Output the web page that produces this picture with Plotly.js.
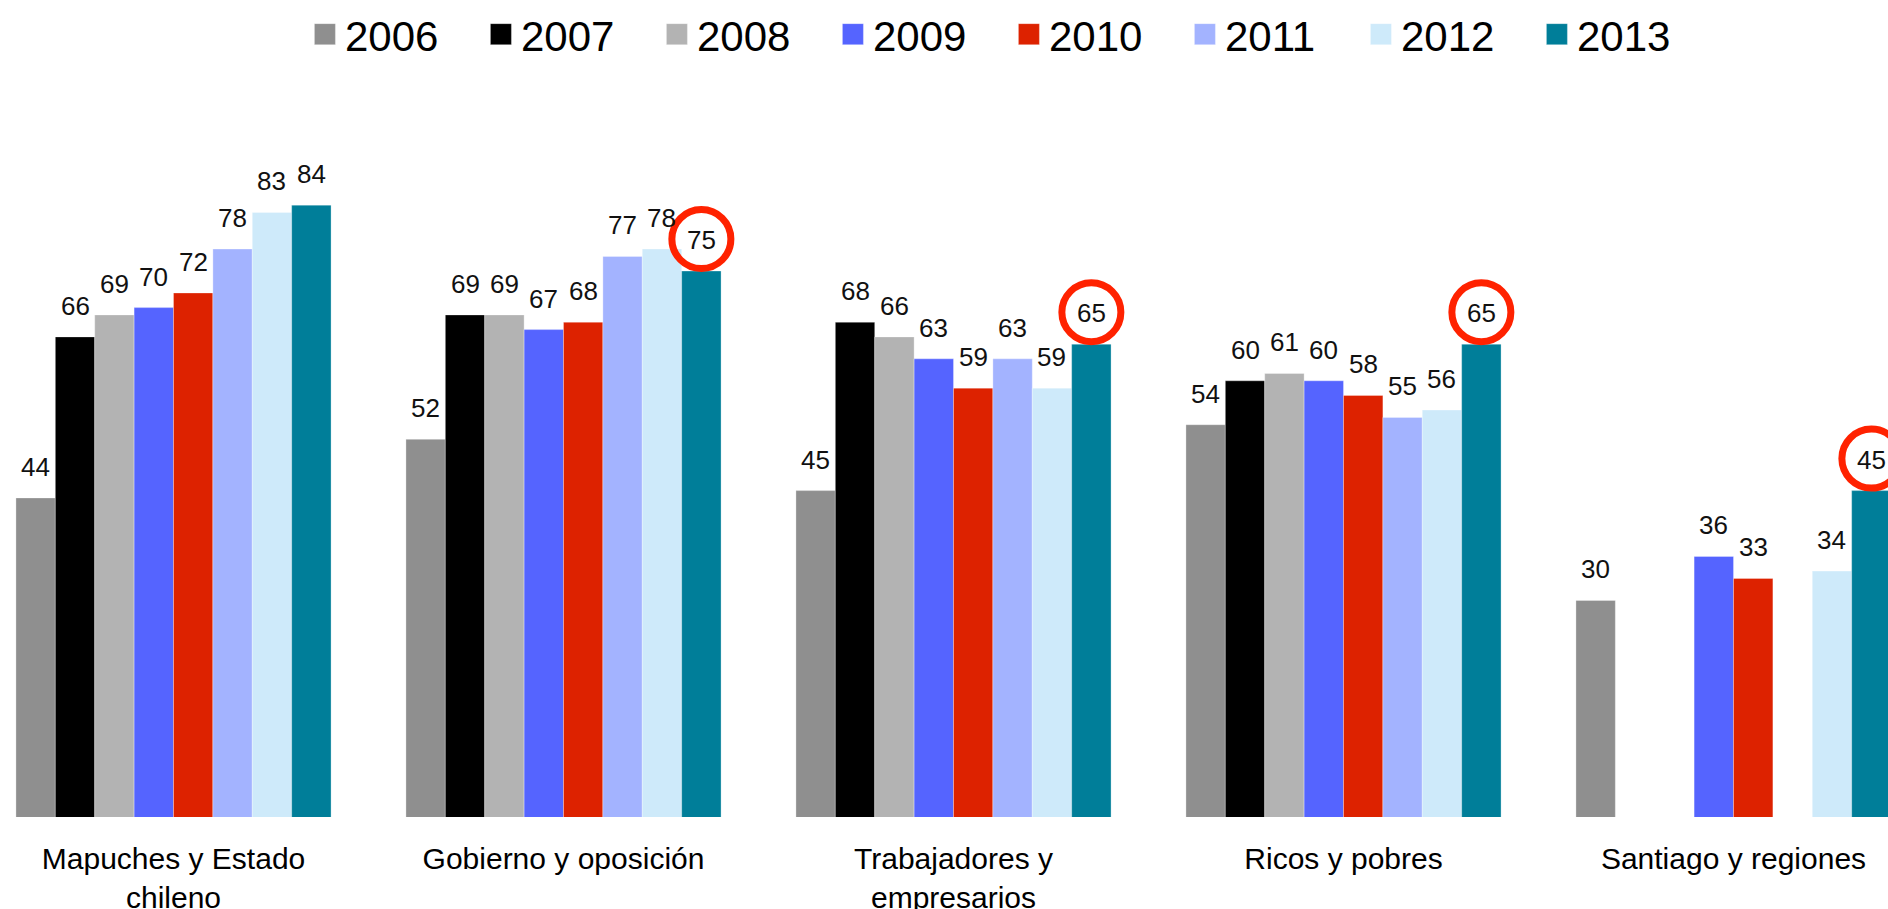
<!DOCTYPE html>
<html><head><meta charset="utf-8">
<script src="https://cdn.plot.ly/plotly-3.0.1.min.js"></script>
<style>html,body{margin:0;padding:0;overflow:hidden;background:#fff}</style>
</head><body><div id="chart" style="width:1888px;height:909px"></div>
<script>
const categories = ["Mapuches y Estado<br>chileno", "Gobierno y oposición", "Trabajadores y<br>empresarios", "Ricos y pobres", "Santiago y regiones"];
const years = ["2006", "2007", "2008", "2009", "2010", "2011", "2012", "2013"];
const colors = ["#8F8F8F", "#000000", "#B3B3B3", "#5564FF", "#DD2200", "#A3B3FF", "#CEEAFA", "#007E99"];
const v2006 = [44, 52, 45, 54, 30];
const v2007 = [66, 69, 68, 60, null];
const v2008 = [69, 69, 66, 61, null];
const v2009 = [70, 67, 63, 60, 36];
const v2010 = [72, 68, 59, 58, 33];
const v2011 = [78, 77, 63, 55, null];
const v2012 = [83, 78, 59, 56, 34];
const v2013 = [84, 75, 65, 65, 45];
const circled2013 = [false, true, true, true, true];

const series = [v2006, v2007, v2008, v2009, v2010, v2011, v2012, v2013];
const FONT = "Liberation Sans, Arial, Helvetica, sans-serif";
const xpos = categories.map((c, i) => i);
const bargap = 0.192;
const nS = series.length;
const bw = (1 - bargap) / nS;
const offset = j => -(1 - bargap) / 2 + (j + 0.5) * bw;

const traces = series.map((vals, j) => ({
  type: "bar",
  name: years[j],
  x: xpos,
  y: vals,
  marker: { color: colors[j], line: { width: 1, color: "rgba(255,255,255,0.3)" } },
  hoverinfo: "x+y+name"
}));

const annotations = [];
series.forEach((vals, j) => {
  vals.forEach((v, i) => {
    if (v === null) return;
    annotations.push({
      x: i + offset(j), y: v, xref: "x", yref: "y",
      text: String(v), showarrow: false,
      xanchor: "center", yanchor: "middle", yshift: 31,
      font: { family: FONT, size: 26, color: "#111" }
    });
  });
});

const shapes = [];
const last = nS - 1;
circled2013.forEach((c, i) => {
  if (!c || v2013[i] === null) return;
  shapes.push({
    type: "circle", xref: "x", yref: "y",
    xsizemode: "pixel", ysizemode: "pixel",
    xanchor: i + offset(last), yanchor: v2013[i],
    x0: -29.5, x1: 29.5, y0: 2.5, y1: 61.5,
    line: { color: "#FF2200", width: 7 },
    fillcolor: "rgba(0,0,0,0)", layer: "above"
  });
});

const catWidthPx = 390, firstCenterPx = 173.5, W = 1888;
const xr0 = -firstCenterPx / catWidthPx;
const xr1 = xr0 + W / catWidthPx;
const pxPerUnit = 7.36, plotH = 727;
const yMin = 3 / pxPerUnit;

const layout = {
  width: 1888, height: 909,
  margin: { l: 0, r: 0, t: 90, b: 92 },
  paper_bgcolor: "#fff", plot_bgcolor: "#fff",
  barmode: "group", bargap: bargap, bargroupgap: 0,
  font: { family: FONT, color: "#000" },
  showlegend: true,
  legend: {
    orientation: "h", x: 0.1615, xanchor: "left", y: 1.0825, yanchor: "middle",
    font: { family: FONT, size: 42, color: "#000" },
    entrywidth: 131, itemclick: false, itemdoubleclick: false
  },
  xaxis: {
    type: "linear", range: [xr0, xr1], tickvals: xpos, ticktext: categories,
    showgrid: false, zeroline: false, showline: false, ticks: "",
    ticklabelstandoff: 21,
    tickfont: { family: FONT, size: 30, color: "#000" }, fixedrange: true
  },
  yaxis: { range: [yMin, yMin + plotH / pxPerUnit], visible: false, fixedrange: true },
  annotations: annotations,
  shapes: shapes
};

function fixLegend() {
  document.querySelectorAll("#chart .legendpoints path").forEach(p => p.setAttribute("d", "M10.5,10.5H-10.5V-10.5H10.5Z"));
}
Plotly.newPlot("chart", traces, layout, { displayModeBar: false, staticPlot: true }).then(gd => {
  fixLegend();
  gd.on("plotly_afterplot", fixLegend);
  setTimeout(fixLegend, 50);
  setTimeout(fixLegend, 300);
});
</script></body></html>
